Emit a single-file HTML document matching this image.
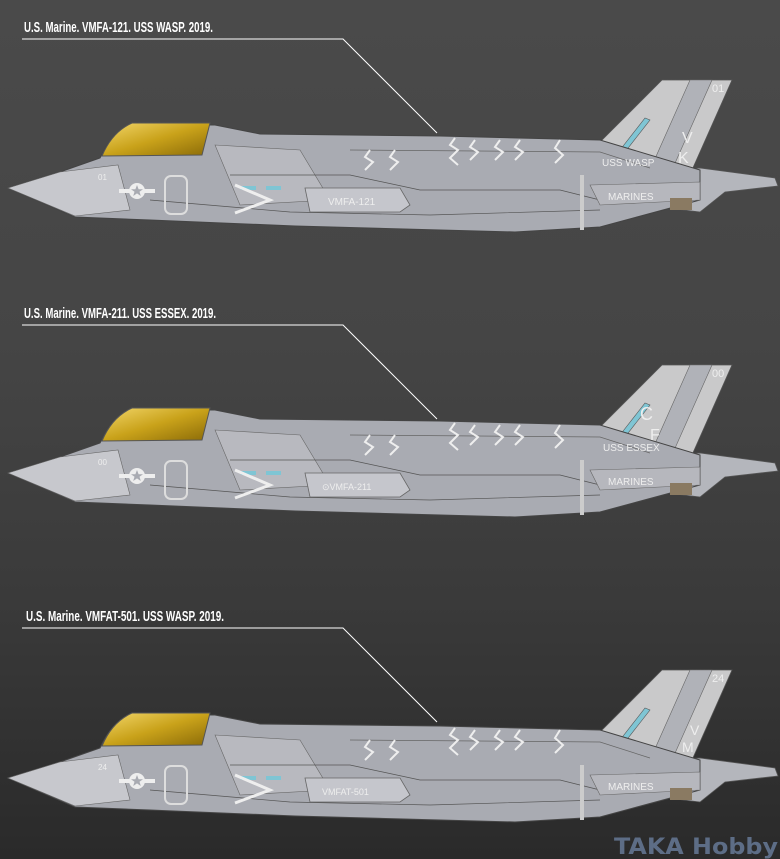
<!DOCTYPE html>
<html><head><meta charset="utf-8"><style>
html,body{margin:0;padding:0;}
body{width:780px;height:859px;overflow:hidden;background:linear-gradient(#4a4a4a 0%,#454545 40%,#3a3a3a 70%,#2a2a2a 100%);}
svg{display:block}
.t{font-family:"Liberation Sans",sans-serif;font-weight:bold;font-size:15px;fill:#fff}
.w{font-family:"Liberation Sans",sans-serif;fill:#eee}
</style></head><body>
<svg width="780" height="859" viewBox="0 0 780 859">
<defs>
<linearGradient id="can" x1="0" y1="0" x2="1" y2="1">
<stop offset="0" stop-color="#f2d66a"/><stop offset="0.5" stop-color="#c9a21a"/><stop offset="1" stop-color="#8a6a08"/>
</linearGradient>
<g id="plane">
  <path d="M560,172 L700,168 L775,178 L778,186 L725,192 L700,212 L600,200 Z" fill="#b4b6bc" stroke="#555" stroke-width="0.8"/>
  <path d="M572,170 L662,80 L732,80 L692,170 Z" fill="#c9c9ca" stroke="#555" stroke-width="0.8"/>
  <path d="M690,80 L712,80 L672,170 L650,170 Z" fill="#b0b2b8" stroke="#666" stroke-width="0.6"/>
  <path d="M620,150 L645,118 L650,120 L625,152 Z" fill="#7fc5d4" stroke="#555" stroke-width="0.6"/>
  <path d="M8,188 L60,172 L100,158 Q112,132 130,125 L215,125 L260,134 L440,136 L600,140 L700,170 L700,200 L600,227 L515,232 L295,226 L150,220 L75,217 Z" fill="#a9abb2" stroke="#444" stroke-width="1"/>
  <path d="M8,188 L60,172 L118,165 L130,210 L75,216 Z" fill="#c7c8cd" stroke="#666" stroke-width="0.6"/>
  <path d="M215,145 L300,150 L330,200 L240,205 Z" fill="#b8b9bf" stroke="#666" stroke-width="0.6"/>
  <path d="M305,188 L400,188 L410,205 L400,212 L310,212 Z" fill="#c5c6cc" stroke="#666" stroke-width="0.8"/>
  <path d="M230,175 L350,175 L420,190 L560,190 L600,200" fill="none" stroke="#555" stroke-width="0.8"/>
  <path d="M150,200 L290,212 L430,215 L600,210" fill="none" stroke="#555" stroke-width="0.7"/>
  <path d="M350,150 L600,152 L650,168" fill="none" stroke="#666" stroke-width="0.7"/>
  <path d="M590,185 L700,182 L700,200 L600,205 Z" fill="#b6b7bd" stroke="#666" stroke-width="0.6"/>
  <path d="M455,138 L450,145 L458,150 L450,158 L458,165 M475,140 L470,147 L478,152 L470,160 M500,140 L495,147 L503,152 L495,160 M520,140 L515,147 L523,152 L515,160 M560,140 L555,148 L563,155 L555,163 M370,150 L365,157 L373,162 L365,170 M395,150 L390,157 L398,162 L390,170" fill="none" stroke="#eee" stroke-width="2"/>
  <path d="M102,156 Q112,132 132,123 L210,123 L202,155 Z" fill="url(#can)" stroke="#555" stroke-width="1"/>
  <rect x="119" y="189" width="36" height="4" fill="#eee"/>
  <circle cx="137" cy="191" r="8" fill="#eee"/>
  <path d="M137,185 L138.6,189.2 L143,189.2 L139.5,191.8 L140.8,196 L137,193.4 L133.2,196 L134.5,191.8 L131,189.2 L135.4,189.2 Z" fill="#a9abb2"/>
  <rect x="165" y="176" width="22" height="38" rx="6" fill="none" stroke="#ddd" stroke-width="2"/>
  <rect x="241" y="186" width="15" height="4" fill="#7fc5d4"/>
  <rect x="266" y="186" width="15" height="4" fill="#7fc5d4"/>
  <path d="M235,185 L270,200 L235,213" fill="none" stroke="#eee" stroke-width="3"/>
  <rect x="580" y="175" width="4" height="55" fill="#ccc"/>
  <rect x="670" y="198" width="22" height="12" fill="#8a7a62"/>
</g>
</defs>

<text class="t" x="24" y="32" textLength="189" lengthAdjust="spacingAndGlyphs">U.S. Marine. VMFA-121. USS WASP. 2019.</text>
<polyline points="22,39 343,39 437,133" fill="none" stroke="#fff" stroke-width="1"/>
<use href="#plane"/>
<text class="w" x="328" y="205" font-size="10">VMFA-121</text>
<text class="w" x="608" y="200" font-size="10">MARINES</text>
<text class="w" x="602" y="166" font-size="10">USS WASP</text>
<text class="w" x="682" y="143" font-size="16">V</text>
<text class="w" x="678" y="163" font-size="16">K</text>
<text class="w" x="712" y="92" font-size="11">01</text>
<text class="w" x="98" y="180" font-size="8">01</text>

<text class="t" x="24" y="318" textLength="192" lengthAdjust="spacingAndGlyphs">U.S. Marine. VMFA-211. USS ESSEX. 2019.</text>
<polyline points="22,325 343,325 437,419" fill="none" stroke="#fff" stroke-width="1"/>
<use href="#plane" transform="translate(0,285)"/>
<text class="w" x="322" y="490" font-size="9">⊙VMFA-211</text>
<text class="w" x="608" y="485" font-size="10">MARINES</text>
<text class="w" x="603" y="451" font-size="10">USS ESSEX</text>
<text class="w" x="640" y="420" font-size="18">C</text>
<text class="w" x="650" y="440" font-size="16">F</text>
<text class="w" x="712" y="377" font-size="11">00</text>
<text class="w" x="98" y="465" font-size="8">00</text>

<text class="t" x="26" y="621" textLength="198" lengthAdjust="spacingAndGlyphs">U.S. Marine. VMFAT-501. USS WASP. 2019.</text>
<polyline points="22,628 343,628 437,722" fill="none" stroke="#fff" stroke-width="1"/>
<use href="#plane" transform="translate(0,590)"/>
<text class="w" x="322" y="795" font-size="9">VMFAT-501</text>
<text class="w" x="608" y="790" font-size="10">MARINES</text>
<text class="w" x="690" y="735" font-size="14">V</text>
<text class="w" x="682" y="752" font-size="14">M</text>
<text class="w" x="712" y="682" font-size="11">24</text>
<text class="w" x="98" y="770" font-size="8">24</text>

<text x="614" y="854" font-family="'DejaVu Sans',sans-serif" font-size="22" font-weight="bold" fill="#5d6d86" textLength="164" lengthAdjust="spacingAndGlyphs">TAKA Hobby</text>
</svg>
</body></html>
